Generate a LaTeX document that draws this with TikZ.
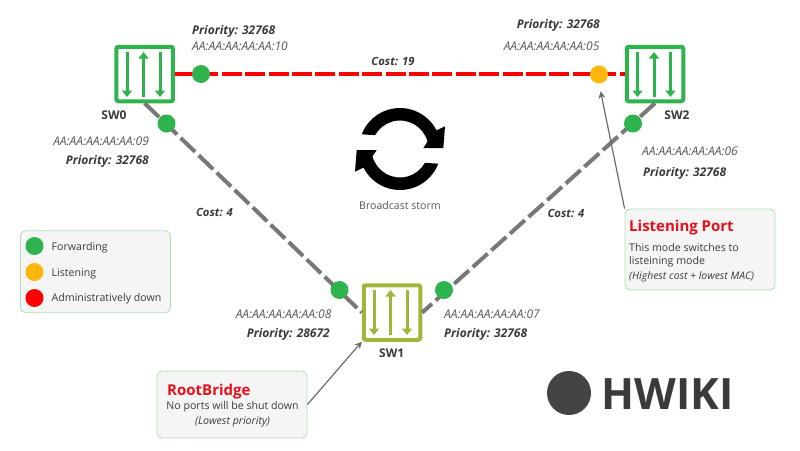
\documentclass[tikz,border=0pt]{standalone}
\usepackage{fontspec}
\setmainfont{Open Sans}
\usetikzlibrary{arrows.meta}
\definecolor{swgreen}{HTML}{2FB34E}
\definecolor{olive}{HTML}{A3B43A}
\definecolor{amber}{HTML}{FFB60D}
\definecolor{linkgrey}{HTML}{787878}
\definecolor{txt}{HTML}{3A3A3A}
\definecolor{boxedge}{HTML}{B4E0B8}
\definecolor{boxfill}{HTML}{F5F5F5}
\definecolor{hot}{HTML}{E8101A}
\tikzset{
  x=1pt,y=-1pt,
  switchbox/.style={draw=#1,line width=4pt,rounded corners=2pt,minimum width=56.5pt,minimum height=54.5pt,outer sep=2pt,inner sep=0pt,fill=white},
  sa/.style={draw=#1,line width=3pt,-{Triangle[length=6.5pt,width=10pt]}},
  port/.style={circle,fill=#1,minimum size=18pt,inner sep=0pt,outer sep=0pt},
  reddash/.style={draw=red,line width=4pt,dash pattern=on 20pt off 3.4pt},
  greydash/.style={draw=linkgrey,line width=4pt,dash pattern=on 20pt off 5pt},
  thin arrow/.style={draw=linkgrey!90!black,line width=1.2pt,-{Stealth[length=7pt,width=7pt]}},
  panel/.style={draw=boxedge,fill=boxfill,line width=.9pt,rounded corners=5pt,inner sep=0pt},
  swl/.style={font=\bfseries\fontsize{12}{14}\selectfont,text=txt,inner sep=0pt,yshift=-.7pt},
  mac/.style={font=\itshape\fontsize{12}{14}\selectfont,text=txt!85,inner sep=0pt,yshift=-1.5pt},
  pri/.style={font=\bfseries\itshape\fontsize{12}{14}\selectfont,text=txt,inner sep=0pt,yshift=-1.5pt},
  costl/.style={font=\bfseries\itshape\fontsize{11.3}{14}\selectfont,text=txt,inner sep=0pt,yshift=-1.5pt},
  small/.style={font=\fontsize{10.6}{12}\selectfont,text=txt,inner sep=0pt,yshift=-1.5pt},
  smalli/.style={font=\itshape\fontsize{10.6}{12}\selectfont,text=txt,inner sep=0pt,yshift=-1.5pt},
  heading/.style={font=\bfseries\fontsize{15}{17}\selectfont,text=hot,inner sep=0pt,yshift=-1.5pt},
  stormhalf/.pic={
    \fill[black] (159:41pt)
      arc[start angle=159,end angle=27,radius=41pt]
      -- (45pt,22.7pt) -- (43.3pt,1pt) -- (23.3pt,1pt) -- (15:28.5pt)
      arc[start angle=15,end angle=151,radius=28.5pt] -- cycle;
  },
}
\newcommand{\swarrows}[3]{%
  \draw[sa=#3] (#1-16.5,#2-25) -- (#1-16.5,#2+20);
  \draw[sa=#3] (#1,#2+20) -- (#1,#2-25);
  \draw[sa=#3] (#1+16.5,#2-25) -- (#1+16.5,#2+20);
}
\begin{document}
\begin{tikzpicture}
\useasboundingbox (0,0) rectangle (800,450);
\fill[white] (0,0) rectangle (800,450);
% switches
\node[switchbox=swgreen] (sw0) at (144.7,74) {};
\node[switchbox=swgreen] (sw2) at (655,74) {};
\node[switchbox=olive] (sw1) at (392,312.5) {};
\swarrows{143.5}{77}{swgreen}
\swarrows{654}{77}{swgreen}
\swarrows{390.5}{315}{olive}
\node[swl] (sw0l) at (114,115) {SW0};
\node[swl] (sw2l) at (677,115) {SW2};
\node[swl] (sw1l) at (391.7,352.7) {SW1};
% panels
\node[panel,minimum width=150pt,minimum height=82pt] (legend) at (95.4,271.7) {};
\node[panel,minimum width=150pt,minimum height=67pt] (root) at (232,404.5) {};
\node[panel,minimum width=150pt,minimum height=81pt] (lport) at (700,249.5) {};
% links
\draw[reddash] (sw0.east) -- (sw2.west);
\draw[greydash] (sw0.south) -- (sw1.west);
\draw[greydash] (sw2.south) -- (sw1.east);
% ports
\node[port=swgreen] (p0a) at (201,74) {};
\node[port=swgreen] (p0b) at (166.5,123.5) {};
\node[port=amber] (p2a) at (599,74.5) {};
\node[port=swgreen] (p2b) at (633,123.5) {};
\node[port=swgreen] (p1a) at (339.5,290) {};
\node[port=swgreen] (p1b) at (444,290) {};
% annotation arrows
\draw[thin arrow] (root.east) -- (sw1.south west);
\draw[thin arrow,shorten >=8pt] (lport.north west) -- (p2a.south);
% labels
\node[pri,anchor=west] (t1) at (192,30) {Priority: 32768};
\node[mac,anchor=west] (t2) at (192,45) {AA:AA:AA:AA:AA:10};
\node[pri,anchor=east] (t3) at (600,24) {Priority: 32768};
\node[mac,anchor=east] (t4) at (599.5,45) {AA:AA:AA:AA:AA:05};
\node[mac,anchor=east] (t5) at (149,140) {AA:AA:AA:AA:AA:09};
\node[pri,anchor=east] (t6) at (149,160) {Priority: 32768};
\node[mac,anchor=west] (t7) at (642,150) {AA:AA:AA:AA:AA:06};
\node[pri,anchor=west] (t8) at (643,172) {Priority: 32768};
\node[mac,anchor=east] (t9) at (331.5,313) {AA:AA:AA:AA:AA:08};
\node[pri,anchor=east] (t10) at (330,333) {Priority: 28672};
\node[mac,anchor=west] (t11) at (444,313) {AA:AA:AA:AA:AA:07};
\node[pri,anchor=west] (t12) at (444,333) {Priority: 32768};
\node[costl] (c1) at (393,60) {Cost: 19};
\node[costl] (c2) at (214.5,211) {Cost: 4};
\node[costl] (c3) at (566,212) {Cost: 4};
% storm icon
\pic at (400,149) {stormhalf};
\pic[rotate=180] at (400,149) {stormhalf};
\node[small,text=txt!85] (storm) at (400,204) {Broadcast storm};
% legend
\node[port=swgreen] (l1) at (34.5,246) {};
\node[port=amber] (l2) at (34.5,272) {};
\node[port=red] (l3) at (34.5,298) {};
\node[small,anchor=west] (l1t) at (51.5,246) {Forwarding};
\node[small,anchor=west] (l2t) at (51.5,272) {Listening};
\node[small,anchor=west] (l3t) at (51.5,297) {Administratively down};
% root bridge text
\node[heading,anchor=west] (r0) at (167,390) {RootBridge};
\node[small] (r1) at (232.5,405) {No ports will be shut down};
\node[smalli] (r2) at (232.5,420) {(Lowest priority)};
% listening text
\node[heading,anchor=west] (q0) at (629,226) {Listening Port};
\node[small,anchor=west] (q1) at (629,246) {This mode switches to};
\node[small,anchor=west] (q2) at (629,260.5) {listeining mode};
\node[smalli,anchor=west,font=\itshape\fontsize{10.4}{12}\selectfont] (q3) at (629,275) {(Highest cost + lowest MAC)};
% logo
\node[circle,fill=txt!95,minimum size=44pt,inner sep=0pt] (logoc) at (569,393) {};
\node[anchor=west,inner sep=0pt,text=txt,font=\bfseries\fontsize{43.2}{50}\selectfont] (logot) at (601.5,394) {HWIKI};
\end{tikzpicture}
\end{document}
